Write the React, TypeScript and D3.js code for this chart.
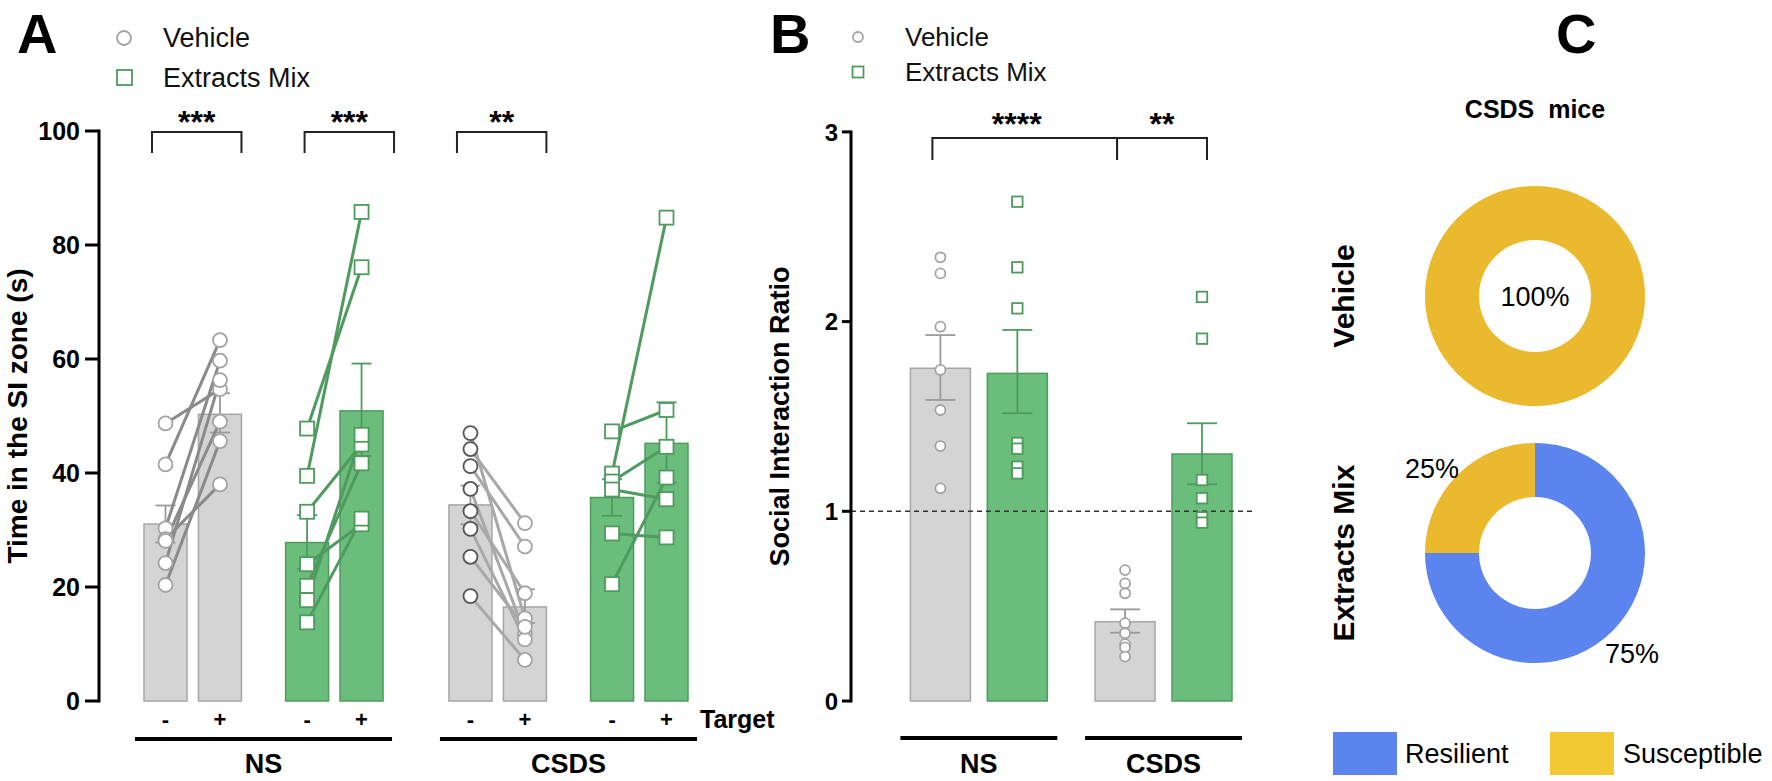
import React from 'react';
import * as d3 from 'd3';

// ---- data ----
const groups = ['NS', 'CSDS'];
const treatments = ['Vehicle', 'Extracts Mix'];
const targets = ['-', '+'];

// Panel A: time in SI zone (s); order NS-Veh-, NS-Veh+, NS-Ext-, NS-Ext+, CSDS-Veh-, CSDS-Veh+, CSDS-Ext-, CSDS-Ext+
const siMeans = [31.05, 50.3, 27.8, 50.9, 34.4, 16.5, 35.7, 45.2];
const siErrHigh = [34.3, 54.0, 32.6, 59.2, 37.8, 19.6, 38.9, 52.4];
const siErrLow = [27.8, 47.1, 23.2, 43.0, 31.0, 13.7, 32.5, 38.3];
// each mouse: [no target, target]
const nsVehPairs = [[48.7, 54.7], [41.5, 63.3], [30.3, 59.7], [28.4, 38.0], [28.1, 49.0], [24.2, 56.3], [20.35, 45.6]];
const nsExtPairs = [[47.8, 76.1], [39.5, 85.8], [33.2, 45.0], [24.0, 31.0], [20.2, 41.7], [17.7, 46.7], [13.8, 32.0]];
const csdsVehPairs = [[47.0, 14.5], [44.2, 31.2], [41.2, 27.1], [37.2, 11.8], [33.3, 18.9], [30.2, 10.8], [25.3, 13.0], [18.4, 7.2]];
const csdsExtPairs = [[47.3, 51.05], [39.9, 84.8], [38.5, 44.6], [37.1, 35.4], [29.4, 28.7], [20.5, 39.2]];
const siTicks = [0, 20, 40, 60, 80, 100];
const siStars = [
  { a: 0, b: 1, label: '***' },
  { a: 2, b: 3, label: '***' },
  { a: 4, b: 5, label: '**' },
];

// Panel B: social interaction ratio; order NS-Veh, NS-Ext, CSDS-Veh, CSDS-Ext
const ratioMeans = [1.754, 1.727, 0.418, 1.302];
const ratioErrHigh = [1.929, 1.956, 0.483, 1.464];
const ratioErrLow = [1.587, 1.517, 0.36, 1.142];
const ratioPoints = [
  [2.339, 2.254, 1.973, 1.745, 1.534, 1.344, 1.121],
  [2.632, 2.286, 2.07, 1.36, 1.33, 1.235, 1.2],
  [0.69, 0.62, 0.568, 0.41, 0.357, 0.3, 0.283, 0.234],
  [2.13, 1.91, 1.165, 1.069, 0.968, 0.94],
];
const ratioTicks = [0, 1, 2, 3];
const ratioStars = [
  { a: 0, b: 2, label: '****' },
  { a: 2, b: 3, label: '**' },
];

// Panel C: phenotype share (%)
const phenotypes = ['Resilient', 'Susceptible'];
const vehicleShare = [0, 100];
const extractShare = [75, 25];

// ---- styles ----
const FONT = '"Liberation Sans", Arial, Helvetica, sans-serif';
const GRAY_FILL = '#d4d4d4';
const GRAY_STROKE = '#a6a6a6';
const GREEN_FILL = '#6abd7b';
const GREEN_STROKE = '#4f9a5f';
const BLUE = '#5b84ee';
const YELLOW = '#ebb92d';
const YELLOW_LEGEND = '#f2c932';

const yA = d3.scaleLinear().domain([0, 100]).range([701, 131]);
const xA = d3.scaleLinear().domain([0, 9.2]).range([165.5, 666.5]);
const slotA = (g: number, t: number, k: number) => g * 5.6 + t * 2.6 + k;
const barWA = 43;

const yB = d3.scaleLinear().domain([0, 3]).range([701, 131.9]);
const xB = d3.scaleLinear().domain([0, 3.4]).range([940.4, 1202]);
const slotB = (g: number, t: number) => g * 2.4 + t;
const barWB = 60;

const Circle = ({ x, y, r, stroke }: { x: number; y: number; r: number; stroke: string }) => (
  <circle cx={x} cy={y} r={r} fill="#fff" stroke={stroke} strokeWidth={1.8} />
);
const Square = ({ x, y, s, stroke }: { x: number; y: number; s: number; stroke: string }) => (
  <rect x={x - s / 2} y={y - s / 2} width={s} height={s} fill="#fff" stroke={stroke} strokeWidth={1.8} />
);

const barX = (i: number) => xA(slotA(Math.floor(i / 4), Math.floor((i % 4) / 2), i % 2));

const PanelA = () => {
  const pairSets = [nsVehPairs, nsExtPairs, csdsVehPairs, csdsExtPairs];
  const bars: { i: number; g: number; t: number; k: number; cx: number }[] = [];
  groups.forEach((_, g) =>
    treatments.forEach((_, t) =>
      targets.forEach((_, k) => bars.push({ i: g * 4 + t * 2 + k, g, t, k, cx: xA(slotA(g, t, k)) }))
    )
  );
  return (
    <g>
      {/* bars */}
      {bars.map(b => (
        <rect key={'b' + b.i} x={b.cx - barWA / 2} y={yA(siMeans[b.i])} width={barWA}
          height={yA(0) - yA(siMeans[b.i])}
          fill={b.t === 0 ? GRAY_FILL : GREEN_FILL} stroke={b.t === 0 ? GRAY_STROKE : GREEN_STROKE} strokeWidth={1.5} />
      ))}
      {/* error bars */}
      {bars.map(b => {
        const c = b.t === 0 ? '#9a9a9a' : GREEN_STROKE;
        return (
          <g key={'e' + b.i} stroke={c} strokeWidth={1.8}>
            <line x1={b.cx} x2={b.cx} y1={yA(siErrLow[b.i])} y2={yA(siErrHigh[b.i])} />
            <line x1={b.cx - 10} x2={b.cx + 10} y1={yA(siErrHigh[b.i])} y2={yA(siErrHigh[b.i])} />
            <line x1={b.cx - 10} x2={b.cx + 10} y1={yA(siErrLow[b.i])} y2={yA(siErrLow[b.i])} />
          </g>
        );
      })}
      {/* paired lines */}
      {pairSets.map((set, si) => {
        const g = Math.floor(si / 2), t = si % 2;
        const x0 = xA(slotA(g, t, 0)), x1 = xA(slotA(g, t, 1));
        const col = t === 1 ? GREEN_STROKE : g === 0 ? '#8a8a8a' : '#a8a8a8';
        return set.map((p, j) => (
          <line key={'l' + si + '-' + j} x1={x0} y1={yA(p[0])} x2={x1} y2={yA(p[1])} stroke={col} strokeWidth={3} />
        ));
      })}
      {/* markers */}
      {pairSets.map((set, si) => {
        const g = Math.floor(si / 2), t = si % 2;
        return set.map((p, j) =>
          p.map((v, k) => {
            const x = xA(slotA(g, t, k));
            if (t === 1) return <Square key={'m' + si + j + k} x={x} y={yA(v)} s={14} stroke={GREEN_STROKE} />;
            const st = g === 1 && k === 0 ? '#555' : '#a3a3a3';
            return <Circle key={'m' + si + j + k} x={x} y={yA(v)} r={7} stroke={st} />;
          })
        );
      })}
      {/* axis */}
      <line x1={99} x2={99} y1={yA(100) - 1.5} y2={yA(0) + 1.5} stroke="#000" strokeWidth={3} />
      {siTicks.map(t => (
        <g key={'t' + t}>
          <line x1={85} x2={99} y1={yA(t)} y2={yA(t)} stroke="#000" strokeWidth={3} />
          <text x={80} y={yA(t)} dy="0.36em" textAnchor="end" fontSize={25} fontWeight="bold">{t}</text>
        </g>
      ))}
      <text transform={`translate(17,${(yA(0) + yA(100)) / 2}) rotate(-90)`} textAnchor="middle" dy="0.35em"
        fontSize={28} fontWeight="bold">Time in the SI zone (s)</text>
      {/* significance */}
      {siStars.map((s, i) => {
        const shift = i === 1 ? 11 : 0;
        const x1 = barX(s.a) - 13.5 + shift;
        const x2 = barX(s.b) + barWA / 2 + shift;
        return (
          <g key={'s' + i}>
            <path d={`M${x1},153 V132 H${x2} V153`} fill="none" stroke="#222" strokeWidth={2} />
            <text x={(x1 + x2) / 2} y={133} textAnchor="middle" fontSize={32} fontWeight="bold">{s.label}</text>
          </g>
        );
      })}
      {/* target labels */}
      {bars.map(b => (
        <text key={'k' + b.i} x={b.cx} y={727} textAnchor="middle" fontSize={22} fontWeight="bold">{targets[b.k]}</text>
      ))}
      <text x={700} y={728} fontSize={25} fontWeight="bold">Target</text>
      {groups.map((name, g) => {
        const l = xA(slotA(g, 0, 0)) - barWA / 2 - 9;
        const r = xA(slotA(g, 1, 1)) + barWA / 2 + 9;
        return (
          <g key={'g' + g}>
            <line x1={l} x2={r} y1={739} y2={739} stroke="#000" strokeWidth={4} />
            <text x={(l + r) / 2} y={773} textAnchor="middle" fontSize={27} fontWeight="bold">{name}</text>
          </g>
        );
      })}
      {/* legend */}
      <Circle x={124} y={38} r={7} stroke="#a3a3a3" />
      <text x={163} y={47} fontSize={27} fill="#111">{treatments[0]}</text>
      <Square x={124.5} y={77.5} s={15} stroke={GREEN_STROKE} />
      <text x={163} y={87} fontSize={27} fill="#111">{treatments[1]}</text>
      <text x={17} y={53} fontSize={56} fontWeight="bold">A</text>
    </g>
  );
};

const PanelB = () => {
  const bars: { i: number; g: number; t: number; cx: number }[] = [];
  groups.forEach((_, g) => treatments.forEach((_, t) => bars.push({ i: g * 2 + t, g, t, cx: xB(slotB(g, t)) })));
  const xOf = (i: number) => xB(slotB(Math.floor(i / 2), i % 2));
  return (
    <g>
      {bars.map(b => (
        <rect key={'b' + b.i} x={b.cx - barWB / 2} y={yB(ratioMeans[b.i])} width={barWB}
          height={yB(0) - yB(ratioMeans[b.i])}
          fill={b.t === 0 ? GRAY_FILL : GREEN_FILL} stroke={b.t === 0 ? GRAY_STROKE : GREEN_STROKE} strokeWidth={1.5} />
      ))}
      <line x1={851} x2={1255} y1={yB(1)} y2={yB(1)} stroke="#333" strokeWidth={1.5} strokeDasharray="5,4" />
      {bars.map(b => {
        const c = b.t === 0 ? '#9a9a9a' : GREEN_STROKE;
        return (
          <g key={'e' + b.i} stroke={c} strokeWidth={1.8}>
            <line x1={b.cx} x2={b.cx} y1={yB(ratioErrLow[b.i])} y2={yB(ratioErrHigh[b.i])} />
            <line x1={b.cx - 15} x2={b.cx + 15} y1={yB(ratioErrHigh[b.i])} y2={yB(ratioErrHigh[b.i])} />
            <line x1={b.cx - 15} x2={b.cx + 15} y1={yB(ratioErrLow[b.i])} y2={yB(ratioErrLow[b.i])} />
          </g>
        );
      })}
      {bars.map(b =>
        ratioPoints[b.i].map((v, j) =>
          b.t === 0
            ? <Circle key={'p' + b.i + '-' + j} x={b.cx} y={yB(v)} r={5} stroke="#a3a3a3" />
            : <Square key={'p' + b.i + '-' + j} x={b.cx} y={yB(v)} s={10.5} stroke={GREEN_STROKE} />
        )
      )}
      <line x1={851} x2={851} y1={yB(3) - 1.5} y2={yB(0) + 1.5} stroke="#000" strokeWidth={3} />
      {ratioTicks.map(t => (
        <g key={'t' + t}>
          <line x1={842} x2={851} y1={yB(t)} y2={yB(t)} stroke="#000" strokeWidth={3} />
          <text x={838} y={yB(t)} dy="0.36em" textAnchor="end" fontSize={24} fontWeight="bold">{t}</text>
        </g>
      ))}
      <text transform={`translate(780,${(yB(0) + yB(3)) / 2}) rotate(-90)`} textAnchor="middle" dy="0.35em"
        fontSize={27} fontWeight="bold">Social Interaction Ratio</text>
      {ratioStars.map((s, i) => {
        const x1 = xOf(s.a) - 8;
        const x2 = i === ratioStars.length - 1 ? xOf(s.b) + 5 : xOf(s.b) - 8;
        return (
          <g key={'s' + i}>
            <path d={`M${x1},160 V138 H${x2} V160`} fill="none" stroke="#222" strokeWidth={2} />
            <text x={(x1 + x2) / 2 - (i === 0 ? 8 : 0)} y={135} textAnchor="middle" fontSize={32} fontWeight="bold">{s.label}</text>
          </g>
        );
      })}
      {groups.map((name, g) => {
        const l = xB(slotB(g, 0)) - barWB / 2 - 10;
        const r = xB(slotB(g, 1)) + barWB / 2 + 10;
        return (
          <g key={'g' + g}>
            <line x1={l} x2={r} y1={738} y2={738} stroke="#000" strokeWidth={4} />
            <text x={(l + r) / 2} y={773} textAnchor="middle" fontSize={27} fontWeight="bold">{name}</text>
          </g>
        );
      })}
      <Circle x={858} y={37} r={5} stroke="#a3a3a3" />
      <text x={905} y={46} fontSize={26} fill="#111">{treatments[0]}</text>
      <Square x={858} y={72} s={11} stroke={GREEN_STROKE} />
      <text x={905} y={81} fontSize={26} fill="#111">{treatments[1]}</text>
      <text x={770} y={53} fontSize={56} fontWeight="bold">B</text>
    </g>
  );
};

const PanelC = () => {
  const pie = d3.pie<number>().sort(null).value(d => d);
  const arc = d3.arc<d3.PieArcDatum<number>>().innerRadius(56).outerRadius(110);
  const colors = [BLUE, YELLOW];
  const cx = 1535;
  const rows = [
    { label: treatments[0], share: vehicleShare, cy: 296 },
    { label: treatments[1], share: extractShare, cy: 553 },
  ];
  return (
    <g>
      <text x={1556} y={53} fontSize={56} fontWeight="bold">C</text>
      <text x={cx} y={118} textAnchor="middle" fontSize={25} fontWeight="bold" style={{ whiteSpace: 'pre' }}>CSDS  mice</text>
      {rows.map((r, ri) => (
        <g key={'r' + ri}>
          <g transform={`translate(${cx},${r.cy})`}>
            {pie(r.share).map((a, j) => (a.value > 0 ? <path key={j} d={arc(a) || ''} fill={colors[j]} /> : null))}
          </g>
          <text transform={`translate(1354,${r.cy}) rotate(-90)`} textAnchor="middle" fontSize={30} fontWeight="bold">{r.label}</text>
        </g>
      ))}
      <text x={cx} y={rows[0].cy} dy="0.36em" textAnchor="middle" fontSize={27}>{vehicleShare[1]}%</text>
      <text x={cx - 103} y={rows[1].cy - 85} dy="0.36em" textAnchor="middle" fontSize={27}>{extractShare[1]}%</text>
      <text x={cx + 97} y={rows[1].cy + 100} dy="0.36em" textAnchor="middle" fontSize={27}>{extractShare[0]}%</text>
      <rect x={1333} y={732} width={64} height={43} fill={BLUE} />
      <text x={1405} y={753} dy="0.36em" fontSize={27}>{phenotypes[0]}</text>
      <rect x={1550} y={732} width={64} height={43} fill={YELLOW_LEGEND} />
      <text x={1623} y={753} dy="0.36em" fontSize={27}>{phenotypes[1]}</text>
    </g>
  );
};

export default function App() {
  return (
    <svg width={1772} height={781} viewBox="0 0 1772 781"
      style={{ position: 'absolute', left: 0, top: 0, background: '#fff', fontFamily: FONT }}>
      <rect width={1772} height={781} fill="#fff" />
      <PanelA />
      <PanelB />
      <PanelC />
    </svg>
  );
}
